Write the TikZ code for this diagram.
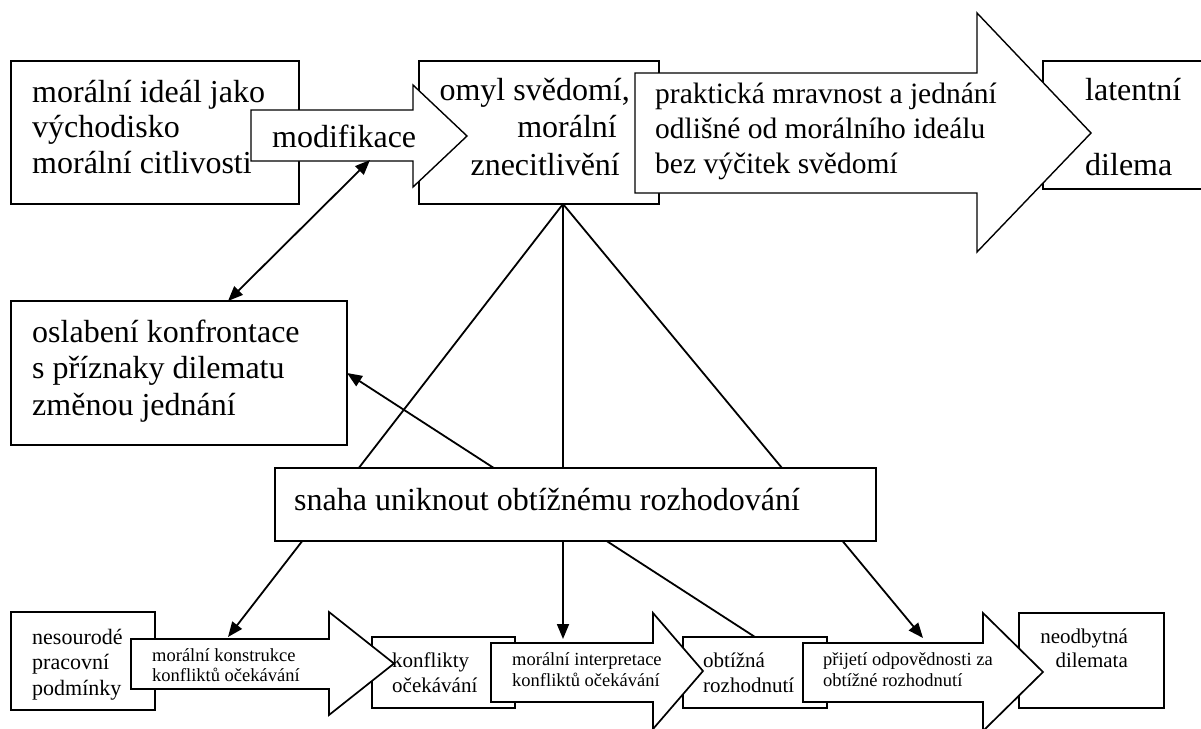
\documentclass[tikz,border=0pt]{standalone}
\usepackage{fontspec}
\setmainfont{Liberation Serif}
\usetikzlibrary{arrows.meta}
\newcommand\FtL{\fontsize{32}{36}\selectfont}
\newcommand\FtM{\fontsize{29.5}{36}\selectfont}
\newcommand\FtS{\fontsize{22}{25}\selectfont}
\newcommand\FtR{\fontsize{21}{25}\selectfont}
\newcommand\FtT{\fontsize{18.5}{21}\selectfont}
\begin{document}
\begin{tikzpicture}[x=1pt,y=-1pt,
  box/.style={draw, line width=1.8pt, fill=white, inner sep=0pt, outer sep=0pt, anchor=north west},
  arrtop/.style={draw, line width=1.4pt, fill=white, line join=miter},
  arrbot/.style={draw, line width=1.7pt, fill=white, line join=miter},
  con/.style={line width=1.8pt, -{Triangle[length=15pt,width=12pt]}},
  dcon/.style={line width=1.8pt, {Triangle[length=15pt,width=12pt]}-{Triangle[length=15pt,width=12pt]}},
  tl/.style={inner sep=0pt, anchor=base west},
  tr/.style={inner sep=0pt, anchor=base east},
]
\useasboundingbox (0,0) rectangle (1201,728);

% ---------- top row boxes ----------
\node[box, minimum width=288pt, minimum height=143pt] (A) at (11,61) {};
\node[box, minimum width=240pt, minimum height=143pt] (B) at (419,61) {};
\node[box, minimum width=170pt, minimum height=128pt] (C) at (1043,61) {};

% ---------- top block arrows ----------
\draw[arrtop] (251,110) -- (413,110) -- (413,85) -- (467,136) -- (413,187) -- (413,161) -- (251,161) -- cycle;
\coordinate (modbot) at (370,160);
\draw[arrtop] (635,73) -- (977,73) -- (977,13) -- (1091,133) -- (977,252) -- (977,193) -- (635,193) -- cycle;

% ---------- middle left box ----------
\node[box, minimum width=336pt, minimum height=144pt] (D) at (11,301) {};
\coordinate (Dtop) at (228,301);

% ---------- bottom row boxes ----------
\node[box, minimum width=144pt, minimum height=98pt] (F) at (11,612) {};
\node[box, minimum width=143pt, minimum height=71pt] (G) at (372,637) {};
\node[box, minimum width=144pt, minimum height=71pt] (H) at (683,637) {};
\node[box, minimum width=145pt, minimum height=95pt] (I) at (1019,613) {};

% ---------- bottom block arrows ----------
\draw[arrbot] (131,639) -- (329,639) -- (329,612) -- (394,663.5) -- (329,715) -- (329,689) -- (131,689) -- cycle;
\draw[arrbot] (491,643) -- (653,643) -- (653,613) -- (703,671) -- (653,729) -- (653,702) -- (491,702) -- cycle;
\draw[arrbot] (803,643) -- (983,643) -- (983,613) -- (1043,672) -- (983,731) -- (983,702) -- (803,702) -- cycle;

% ---------- connectors ----------
\coordinate (P) at (563,204);
\coordinate (t1) at (228,637);
\coordinate (t2) at (563,639);
\coordinate (t3) at (923,638);
\draw[con] (P) -- (t1);
\draw[con] (P) -- (t2);
\draw[con] (P) -- (t3);
\draw[con] (H.north) -- (D.east);
\draw[dcon] (modbot) -- (Dtop);

% ---------- central box ----------
\node[box, minimum width=601pt, minimum height=73pt] (E) at (275,468) {};

% ---------- texts ----------
\FtL
\node[tl] (a1) at (32,102) {morální ideál jako};
\node[tl] (a2) at (32,137.5) {východisko};
\node[tl] (a3) at (32,173) {morální citlivosti};
\node[tl] (mod) at (272,147) {modifikace};
\node[tr] (b1) at (630,100) {omyl svědomí,};
\node[tr] (b2) at (617,137.3) {morální};
\node[tr] (b3) at (620,175) {znecitlivění};
\node[tl] (c1) at (1085,100) {latentní};
\node[tl] (c2) at (1085,175) {dilema};
\node[tl] (d1) at (32,342) {oslabení konfrontace};
\node[tl] (d2) at (32,378.5) {s příznaky dilematu};
\node[tl] (d3) at (32,415) {změnou jednání};
\node[tl] (e1) at (294,510) {snaha uniknout obtížnému rozhodování};

\node[tl, font=\FtM] (p1) at (655,103.5) {praktická mravnost a jednání};
\node[tl, font=\FtM] (p2) at (655,138.5) {odlišné od morálního ideálu};
\node[tl, font=\FtM] (p3) at (655,173.5) {bez výčitek svědomí};

\node[tl, font=\FtS] (f1) at (32,644) {nesourodé};
\node[tl, font=\FtS] (f2) at (32,669.5) {pracovní};
\node[tl, font=\FtS] (f3) at (32,695) {podmínky};

\node[tl, font=\FtT] (k1) at (152,661) {morální konstrukce};
\node[tl, font=\FtT] (k2) at (152,681) {konfliktů očekávání};

\node[tl, font=\FtR] (g1) at (392,667) {konflikty};
\node[tl, font=\FtR] (g2) at (392,692) {očekávání};

\node[tl, font=\FtT] (m1) at (512,665) {morální interpretace};
\node[tl, font=\FtT] (m2) at (512,686) {konfliktů očekávání};

\node[tl, font=\FtR] (h1) at (703,667) {obtížná};
\node[tl, font=\FtR] (h2) at (703,692) {rozhodnutí};

\node[tl, font=\FtT] (r1) at (823,665) {přijetí odpovědnosti za};
\node[tl, font=\FtT] (r2) at (823,686) {obtížné rozhodnutí};

\node[tr, font=\FtR] (i1) at (1128,643) {neodbytná};
\node[tr, font=\FtR] (i2) at (1128,667) {dilemata};
\end{tikzpicture}
\end{document}
